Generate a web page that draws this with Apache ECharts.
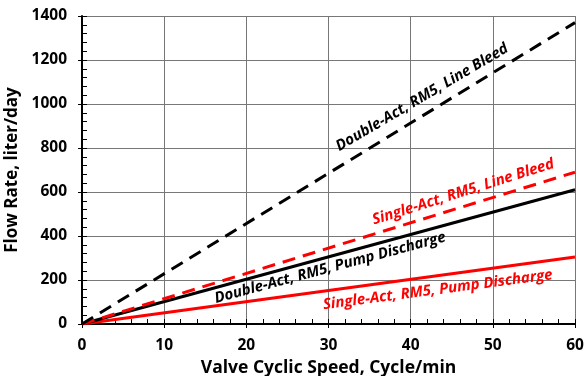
<!DOCTYPE html>
<html>
<head>
<meta charset="utf-8">
<script src="https://cdn.jsdelivr.net/npm/echarts@6/dist/echarts.min.js"></script>
<style>
html,body{margin:0;padding:0;background:#fff;}
#chart{width:584px;height:376px;}
</style>
</head>
<body>
<div id="chart"></div>
<script>
// cycle/min
var speed = [0, 60];
// flow rate, liter/day
var doubleBleed = [0, 1370];
var doublePump = [0, 610];
var singleBleed = [0, 690];
var singlePump = [0, 305];

var xTicks = [0, 10, 20, 30, 40, 50, 60];
var yTicks = [0, 200, 400, 600, 800, 1000, 1200, 1400];

function pairs(xs, ys) {
  return xs.map(function (x, i) { return [x, ys[i]]; });
}

var font = '"Open Sans", "DejaVu Sans", sans-serif';

function lineLabel(text, coord, rot, color) {
  return {
    symbol: 'rect',
    symbolSize: 1,
    silent: true,
    itemStyle: { color: 'rgba(0,0,0,0)' },
    data: [{
      coord: coord,
      label: {
        show: true,
        formatter: text,
        position: 'inside',
        rotate: rot,
        color: color,
        fontFamily: font,
        fontWeight: 'bold',
        fontStyle: 'italic',
        fontSize: 15
      }
    }]
  };
}

function mkSeries(name, data, color, dashed, label) {
  return {
    name: name,
    type: 'line',
    data: pairs(speed, data),
    showSymbol: false,
    symbol: 'none',
    animation: false,
    lineStyle: { color: color, width: 3, type: dashed ? [13, 8] : 'solid' },
    markPoint: label
  };
}

var myChart = echarts.init(document.getElementById('chart'));
var option = {
  animation: false,
  grid: { left: 82, right: 9, top: 16, bottom: 52, outerBoundsMode: 'none' },
  xAxis: [{
    type: 'value', min: 0, max: 60, interval: 10,
    name: 'Valve Cyclic Speed, Cycle/min',
    nameLocation: 'middle', nameGap: 30,
    nameTextStyle: { color: '#000', fontFamily: font, fontWeight: 'bold', fontSize: 17.5 },
    axisLine: { show: true, lineStyle: { color: '#000', width: 2 } },
    axisTick: { show: true, inside: true, length: 5, lineStyle: { color: '#000' } },
    minorTick: { show: true, splitNumber: 5, length: 5, lineStyle: { color: '#000', width: 1 } },
    axisLabel: { color: '#000', fontFamily: font, fontWeight: 'bold', fontSize: 15.5, margin: 14,
      formatter: function (v) { return xTicks.indexOf(v) >= 0 ? String(v) : ''; } },
    splitLine: { show: true, lineStyle: { color: '#777777', width: 1 } }
  }, {
    type: 'value', min: 0, max: 60, interval: 10, position: 'bottom',
    axisLine: { show: false },
    axisTick: { show: true, inside: false, length: 4, lineStyle: { color: '#000' } },
    axisLabel: { show: false }, splitLine: { show: false }
  }],
  yAxis: [{
    type: 'value', min: 0, max: 1400, interval: 200,
    name: 'Flow Rate, liter/day',
    nameLocation: 'middle', nameGap: 54,
    nameTextStyle: { color: '#000', fontFamily: font, fontWeight: 'bold', fontSize: 17 },
    axisLine: { show: true, lineStyle: { color: '#000', width: 2 } },
    axisTick: { show: true, inside: true, length: 5, lineStyle: { color: '#000' } },
    minorTick: { show: true, splitNumber: 5, length: 5, lineStyle: { color: '#000', width: 1 } },
    axisLabel: { color: '#000', fontFamily: font, fontWeight: 'bold', fontSize: 15.5, margin: 15,
      formatter: function (v) { return yTicks.indexOf(v) >= 0 ? String(v) : ''; } },
    splitLine: { show: true, lineStyle: { color: '#777777', width: 1 } }
  }, {
    type: 'value', min: 0, max: 1400, interval: 200, position: 'left',
    axisLine: { show: false },
    axisTick: { show: true, inside: false, length: 4, lineStyle: { color: '#000' } },
    axisLabel: { show: false }, splitLine: { show: false }
  }],
  series: [
    mkSeries('Single-Act, RM5, Pump Discharge', singlePump, '#ff0000', false,
      lineLabel('Single-Act, RM5, Pump Discharge', [43.3, 155], 7.5, '#ff0000')),
    mkSeries('Double-Act, RM5, Pump Discharge', doublePump, '#000000', false,
      lineLabel('Double-Act, RM5, Pump Discharge', [30.2, 255], 15, '#000000')),
    mkSeries('Single-Act, RM5, Line Bleed', singleBleed, '#ff0000', true,
      lineLabel('Single-Act, RM5, Line Bleed', [46.4, 600], 17.5, '#ff0000')),
    mkSeries('Double-Act, RM5, Line Bleed', doubleBleed, '#000000', true,
      lineLabel('Double-Act, RM5, Line Bleed', [41.4, 1030], 30.5, '#000000'))
  ]
};
myChart.setOption(option);
window.addEventListener('resize', function () { myChart.resize(); });
</script>
</body>
</html>
